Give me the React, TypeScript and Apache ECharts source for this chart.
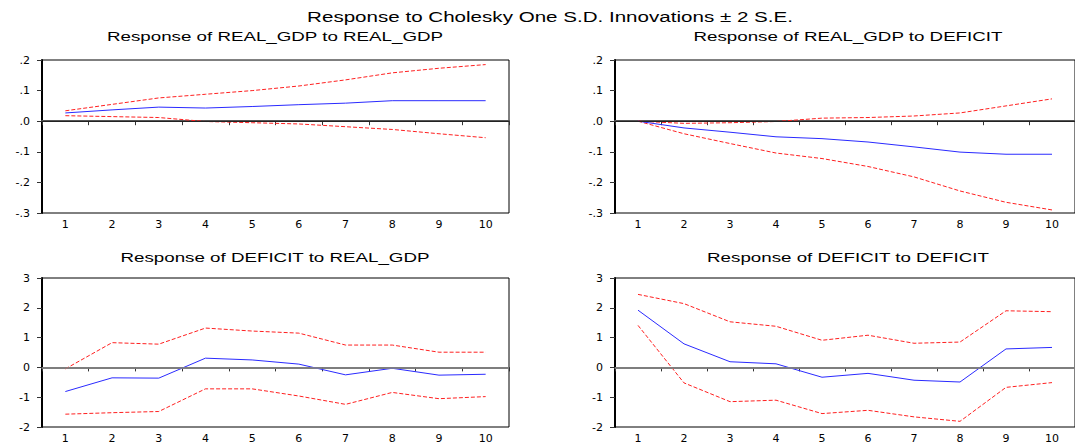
import React, { useEffect, useRef } from "react";
import * as echarts from "echarts";

const periods = ["1", "2", "3", "4", "5", "6", "7", "8", "9", "10"];

const mainTitle = "Response to Cholesky One S.D. Innovations \u00b1 2 S.E.";
const panelTitles = [
  "Response of REAL_GDP to REAL_GDP",
  "Response of REAL_GDP to DEFICIT",
  "Response of DEFICIT to REAL_GDP",
  "Response of DEFICIT to DEFICIT",
];

// Response of REAL_GDP to REAL_GDP
const gdpGdp = [0.027, 0.037, 0.046, 0.043, 0.048, 0.054, 0.059, 0.067, 0.067, 0.067];
const gdpGdpUp = [0.034, 0.055, 0.076, 0.088, 0.1, 0.115, 0.135, 0.158, 0.173, 0.185];
const gdpGdpLo = [0.018, 0.015, 0.012, -0.001, -0.005, -0.009, -0.018, -0.027, -0.041, -0.054];

// Response of REAL_GDP to DEFICIT
const gdpDef = [0.0, -0.022, -0.036, -0.051, -0.057, -0.068, -0.084, -0.101, -0.108, -0.108];
const gdpDefUp = [0.0, -0.007, -0.005, -0.001, 0.01, 0.012, 0.017, 0.027, 0.05, 0.073];
const gdpDefLo = [0.0, -0.041, -0.073, -0.104, -0.122, -0.148, -0.182, -0.228, -0.265, -0.29];

// Response of DEFICIT to REAL_GDP
const defGdp = [-0.81, -0.35, -0.36, 0.31, 0.25, 0.11, -0.25, -0.03, -0.26, -0.23];
const defGdpUp = [-0.05, 0.83, 0.78, 1.32, 1.22, 1.15, 0.75, 0.75, 0.51, 0.51];
const defGdpLo = [-1.57, -1.52, -1.48, -0.72, -0.72, -0.96, -1.24, -0.84, -1.05, -0.98];

// Response of DEFICIT to DEFICIT
const defDef = [1.92, 0.79, 0.19, 0.12, -0.33, -0.2, -0.43, -0.49, 0.62, 0.67];
const defDefUp = [2.45, 2.14, 1.53, 1.38, 0.91, 1.08, 0.81, 0.85, 1.9, 1.87];
const defDefLo = [1.41, -0.52, -1.15, -1.1, -1.55, -1.44, -1.66, -1.81, -0.67, -0.51];

const topAxis = { min: -0.3, max: 0.2, interval: 0.1 };
const bottomAxis = { min: -2, max: 3, interval: 1 };

const panels = [
  { mid: gdpGdp, up: gdpGdpUp, lo: gdpGdpLo, axis: topAxis, top: true },
  { mid: gdpDef, up: gdpDefUp, lo: gdpDefLo, axis: topAxis, top: true },
  { mid: defGdp, up: defGdpUp, lo: defGdpLo, axis: bottomAxis, top: false },
  { mid: defDef, up: defDefUp, lo: defDefLo, axis: bottomAxis, top: false },
];

const gridPos = [
  { left: 42, top: 60 },
  { left: 615, top: 60 },
  { left: 42, top: 278 },
  { left: 615, top: 278 },
];

const titleFont = "Liberation Sans, Arial, sans-serif";
const tickFont = "DejaVu Sans, Arial, sans-serif";

function fmtTop(v: number) {
  const s = (Math.round(v * 10) / 10).toFixed(1);
  if (s === "-0.0") return ".0";
  return s.replace(/^(-?)0\./, "$1.");
}

export default function App() {
  const ref = useRef<HTMLDivElement>(null);
  useEffect(() => {
    if (!ref.current) return;
    const chart = echarts.init(ref.current, null, { renderer: "svg" });

    const grid = gridPos.map((g) => ({
      left: g.left,
      top: g.top,
      width: 467,
      height: 153,
      show: true,
      borderColor: "#000",
      borderWidth: 1,
      backgroundColor: "transparent",
    }));

    const xAxis = panels.map((_, i) => ({
      type: "category",
      gridIndex: i,
      data: periods,
      boundaryGap: true,
      axisLine: { show: true, lineStyle: { color: "#555", width: 2 } },
      axisTick: { show: true, interval: 0, length: 4, lineStyle: { color: "#333", width: 1 } },
      axisLabel: {
        interval: 0,
        margin: 6,
        color: "#000",
        fontSize: 11,
        fontFamily: tickFont,
      },
      splitLine: { show: false },
    }));

    const yAxis = panels.map((p, i) => ({
      type: "value",
      gridIndex: i,
      min: p.axis.min,
      max: p.axis.max,
      interval: p.axis.interval,
      axisLine: { show: true, onZero: false, lineStyle: { color: "#000", width: 2 } },
      axisTick: { show: true, length: 5, lineStyle: { color: "#333", width: 1 } },
      axisLabel: {
        margin: 12,
        color: "#000",
        fontSize: 11,
        fontFamily: tickFont,
        formatter: p.top ? (v: number) => fmtTop(v) : (v: number) => String(Math.round(v)),
      },
      splitLine: { show: false },
    }));

    const series: any[] = [];
    panels.forEach((p, i) => {
      series.push({
        type: "line",
        xAxisIndex: i,
        yAxisIndex: i,
        data: p.mid,
        symbol: "none",
        lineStyle: { color: "#2a2aff", width: 1 },
        z: 3,
        markLine: {
          silent: true,
          symbol: "none",
          label: { show: false },
          lineStyle: {
            color: p.top ? "#222" : "#8c8c8c",
            width: p.top ? 1 : 1.5,
            type: "solid",
          },
          data: [{ yAxis: 0 }],
        },
      });
      series.push({
        type: "line",
        xAxisIndex: i,
        yAxisIndex: i,
        data: p.up,
        symbol: "none",
        lineStyle: { color: "#ff2020", width: 1, type: [4, 2] },
        z: 2,
      });
      series.push({
        type: "line",
        xAxisIndex: i,
        yAxisIndex: i,
        data: p.lo,
        symbol: "none",
        lineStyle: { color: "#ff2020", width: 1, type: [4, 2] },
        z: 2,
      });
    });

    const titleX = [275, 848, 275, 848];
    const titleY = [36.5, 36.5, 257.5, 257.5];
    const graphic: any[] = [
      {
        type: "text",
        x: 550,
        y: 17.5,
        scaleX: 1.47,
        style: {
          text: mainTitle,
          align: "center",
          verticalAlign: "middle",
          fontSize: 14,
          fontFamily: titleFont,
          fill: "#000",
        },
      },
      ...panelTitles.map((t, i) => ({
        type: "text",
        x: titleX[i],
        y: titleY[i],
        scaleX: 1.5,
        style: {
          text: t,
          align: "center",
          verticalAlign: "middle",
          fontSize: 12.5,
          fontFamily: titleFont,
          fill: "#000",
        },
      })),
    ];

    chart.setOption({
      animation: false,
      backgroundColor: "#fff",
      grid,
      xAxis,
      yAxis,
      series,
      graphic,
    });
    return () => chart.dispose();
  }, []);
  return (
    <div
      ref={ref}
      style={{ position: "absolute", left: 0, top: 0, width: 1075, height: 444 }}
    />
  );
}
